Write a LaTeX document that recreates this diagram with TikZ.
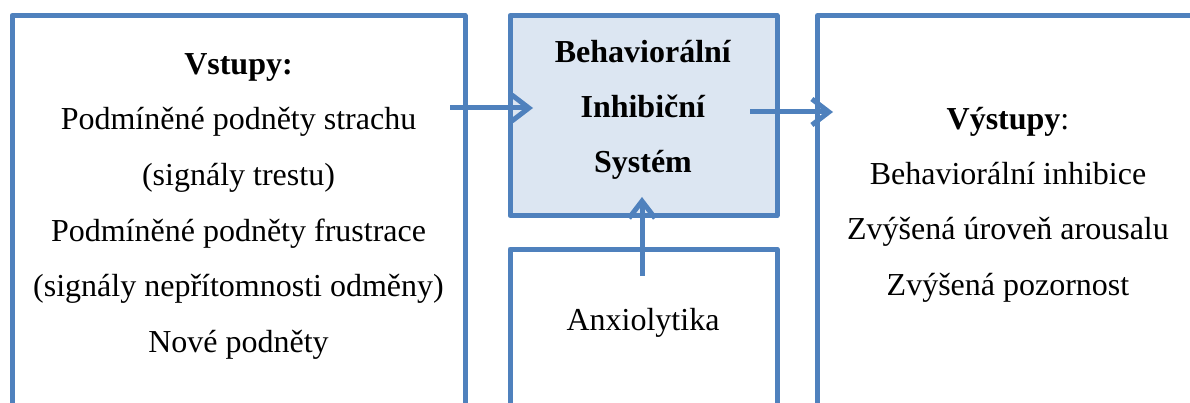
\documentclass[tikz,border=0pt]{standalone}
\usepackage{fontspec}
\setmainfont{Liberation Serif}
\usetikzlibrary{arrows.meta}
\definecolor{bisblue}{RGB}{79,129,189}
\definecolor{bisfill}{RGB}{220,230,242}
\begin{document}
\begin{tikzpicture}[x=1pt,y=-1pt,
  box/.style={draw=bisblue,line width=5pt,line join=round,rectangle,
    inner sep=0pt,outer sep=0pt,anchor=north west},
  txt/.style={inner sep=0pt,anchor=base,font=\fontsize{32}{40}\selectfont},
  flow/.style={draw=bisblue,line width=5pt,
    -{Straight Barb[length=17pt,width=26pt]}}]
\useasboundingbox (0,0) rectangle (1190,403);
\clip (0,0) rectangle (1190,403);

% frames (the lower ones run past the page edge)
\node[box,minimum width=453pt,minimum height=440pt] (inbox) at (12,15.5) {};
\node[box,fill=bisfill,minimum width=267pt,minimum height=200pt] (bis) at (510,15.5) {};
\node[box,minimum width=267pt,minimum height=200pt] (drug) at (510,249) {};
\node[box,minimum width=420pt,minimum height=440pt] (outbox) at (817.5,15.5) {};

% inputs
\node[txt] (i0) at (238.5,75) {\textbf{Vstupy:}};
\node[txt] (i1) at (238.5,130) {Podmíněné podněty strachu};
\node[txt] (i2) at (238.5,185.5) {(signály trestu)};
\node[txt] (i3) at (238.5,241) {Podmíněné podněty frustrace};
\node[txt] (i4) at (238.5,296.5) {(signály nepřítomnosti odměny)};
\node[txt] (i5) at (238.5,352) {Nové podněty};

% system
\node[txt] (s1) at (643,63) {\textbf{Behaviorální}};
\node[txt] (s2) at (643,118) {\textbf{Inhibiční}};
\node[txt] (s3) at (643,173) {\textbf{Systém}};

% modulator
\node[txt] (a1) at (643,330) {Anxiolytika};

% outputs
\node[txt] (o0) at (1008,130) {\textbf{Výstupy}:};
\node[txt] (o1) at (1008,185) {Behaviorální inhibice};
\node[txt] (o2) at (1008,240) {Zvýšená úroveň arousalu};
\node[txt] (o3) at (1008,295) {Zvýšená pozornost};

% connectors
\coordinate (inS) at (450,108);
\coordinate (inE) at (533,108);
\coordinate (outS) at (750,112);
\coordinate (outE) at (833,112);
\coordinate (upS) at (642,276);
\coordinate (upE) at (642,197);
\draw[flow] (inS) -- (inE);
\draw[flow] (outS) -- (outE);
\draw[flow] (upS) -- (upE);
\end{tikzpicture}
\end{document}
